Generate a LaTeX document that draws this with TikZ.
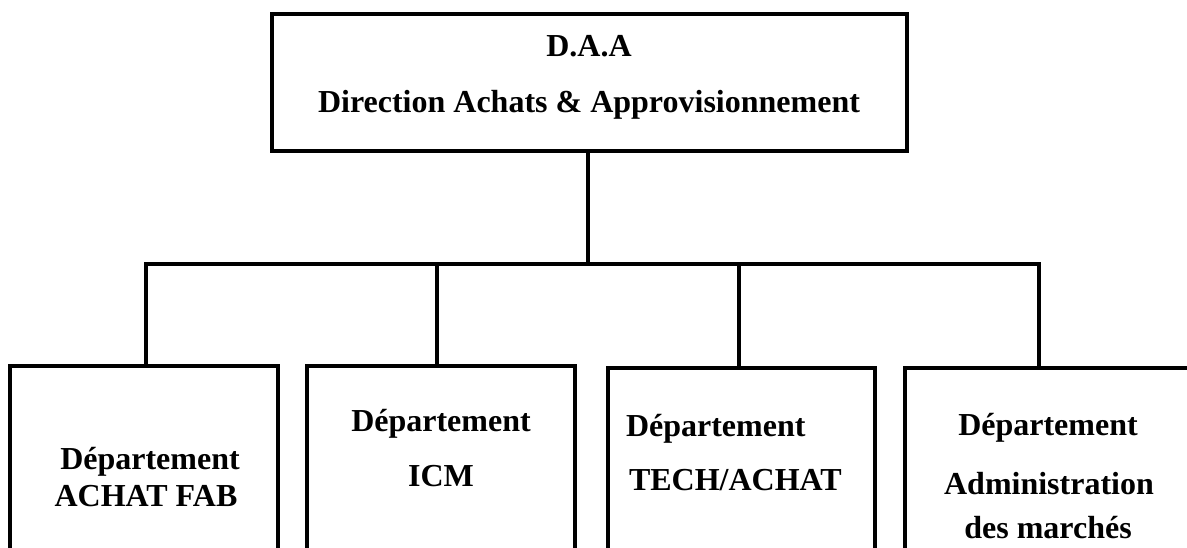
\documentclass[tikz,border=0pt]{standalone}
\usepackage{fontspec}
\setmainfont{Liberation Serif}
\begin{document}
\begin{tikzpicture}[x=1pt,y=-1pt,
  orgbox/.style={draw,line width=4pt,inner sep=0pt,outer sep=0pt,anchor=north west},
  link/.style={line width=4pt},
  label/.style={inner sep=0pt,outer sep=0pt,anchor=base,font=\fontsize{32}{38}\selectfont\bfseries}]
\useasboundingbox (0,0) rectangle (1187,548);
\clip (0,0) rectangle (1187,548);

% head office
\node[orgbox,minimum width=635pt,minimum height=137pt] (daa) at (272,14) {};
\node[label] (daaA) at (589,57) {D.A.A};
\node[label] (daaB) at (589,113) {Direction Achats \& Approvisionnement};

% departments (boxes run past the lower edge)
\node[orgbox,minimum width=268pt,minimum height=220pt] (d1) at (10,366) {};
\node[orgbox,minimum width=268pt,minimum height=220pt] (d2) at (307,366) {};
\node[orgbox,minimum width=267pt,minimum height=220pt] (d3) at (608,368) {};
\node[orgbox,minimum width=320pt,minimum height=220pt] (d4) at (905,368) {};

\node[label] (d1a) at (150,469) {Département};
\node[label] (d1b) at (146,506) {ACHAT FAB};
\node[label] (d2a) at (441,431) {Département};
\node[label] (d2b) at (441,486) {ICM};
\node[label,anchor=base west] (d3a) at (626,436) {Département};
\node[label,anchor=base west] (d3b) at (629,490) {TECH/ACHAT};
\node[label] (d4a) at (1048,435) {Département};
\node[label] (d4b) at (1049,494) {Administration};
\node[label] (d4c) at (1048,538) {des marchés};

% junctions on the horizontal bar
\coordinate (t) at (587.5,264.5);
\coordinate (j1) at (146,264.5);
\coordinate (j2) at (437,264.5);
\coordinate (j3) at (739,264.5);
\coordinate (j4) at (1039,264.5);

\draw[link] (t |- daa.south) -- (t);
\draw[link] (j1 |- d1.north) -- (j1) -- (j4) -- (j4 |- d4.north);
\draw[link] (j2) -- (j2 |- d2.north);
\draw[link] (j3) -- (j3 |- d3.north);
\end{tikzpicture}
\end{document}
